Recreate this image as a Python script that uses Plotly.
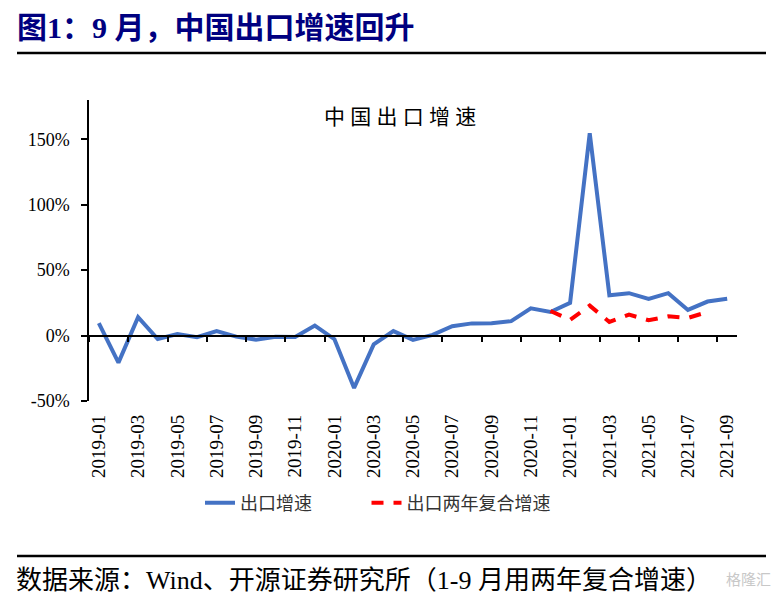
import plotly.graph_objects as go

months = ["2019-01","2019-02","2019-03","2019-04","2019-05","2019-06","2019-07","2019-08","2019-09",
          "2019-10","2019-11","2019-12","2020-01","2020-02","2020-03","2020-04","2020-05","2020-06",
          "2020-07","2020-08","2020-09","2020-10","2020-11","2020-12","2021-01","2021-02","2021-03",
          "2021-04","2021-05","2021-06","2021-07","2021-08","2021-09"]
export_growth = [9.5, -20.7, 14.0, -2.6, 1.2, -1.3, 3.5, -0.8, -3.1,
                 -1.0, -1.1, 7.6, -2.8, -40.0, -6.8, 3.4, -3.3, 0.5,
                 7.1, 9.3, 9.4, 11.0, 20.8, 18.0, 25.0, 154.6, 30.8,
                 32.4, 28.0, 32.4, 19.6, 26.0, 28.2]
compound_months = ["2020-12","2021-01","2021-02","2021-03","2021-04","2021-05","2021-06","2021-07","2021-08"]
compound_growth = [18.8, 12.0, 22.9, 10.4, 16.0, 11.7, 14.7, 13.5, 18.0]
ytick_vals = [-50, 0, 50, 100, 150]
ytick_text = ["-50%", "0%", "50%", "100%", "150%"]

SERIF = "Liberation Serif, Noto Sans CJK SC"
y_min, y_max = -50, 180

W, H = 778, 600
L, R, T, B = 89, 41, 100, 199
pw, ph = W - L - R, H - T - B

def px_to_paper_x(px):
    return (px - L) / pw

def px_to_paper_y(py):
    return (H - B - py) / ph

fig = go.Figure()
fig.add_trace(go.Scatter(x=months, y=export_growth, mode="lines", name="出口增速" + "\u00a0" * 11,
                         line=dict(color="#4472C4", width=4), xaxis="x", yaxis="y"))
fig.add_trace(go.Scatter(x=compound_months, y=compound_growth, mode="lines", name="出口两年复合增速",
                         line=dict(color="#FF0000", width=4, dash="12px,10px"), xaxis="x", yaxis="y"))
# invisible helper trace so the zero-line axis (with tick marks) is drawn
fig.add_trace(go.Scatter(x=months, y=[None]*len(months), mode="lines", showlegend=False,
                         hoverinfo="skip", xaxis="x2", yaxis="y"))

zero_pos = (0 - y_min) / (y_max - y_min)

fig.update_layout(
    width=W, height=H,
    margin=dict(l=L, r=R, t=T, b=B, autoexpand=False),
    paper_bgcolor="white", plot_bgcolor="white",
    showlegend=True,
    legend=dict(orientation="h", x=px_to_paper_x(200), xanchor="left",
                y=px_to_paper_y(503), yanchor="middle",
                font=dict(family=SERIF, size=18, color="#333333"),
                tracegroupgap=0),
    xaxis=dict(type="category", categoryorder="array", categoryarray=months,
               range=[-0.5, len(months) - 0.5], dtick=2, tickangle=-90,
               showline=False, ticks="", showgrid=False, zeroline=False, automargin=False,
               tickfont=dict(family=SERIF, size=19, color="black"),
               ticklabelstandoff=9),
    xaxis2=dict(type="category", categoryorder="array", categoryarray=months,
                range=[-0.5, len(months) - 0.5], overlaying="x", anchor="free", position=zero_pos,
                tickson="boundaries", dtick=2, ticks="outside", ticklen=6, tickcolor="black",
                tickwidth=1.5, showline=True, linecolor="black", linewidth=1.5, automargin=False,
                showticklabels=False, showgrid=False, zeroline=False),
    yaxis=dict(range=[y_min, y_max], tickvals=ytick_vals, ticktext=ytick_text,
               showline=True, linecolor="black", linewidth=1.5, ticks="outside", ticklen=6,
               tickcolor="black", tickwidth=1.5, showgrid=False, zeroline=False, automargin=False,
               tickfont=dict(family=SERIF, size=18, color="black"), ticklabelstandoff=8),
    annotations=[
        dict(text="<b>图1：9 月，中国出口增速回升</b>", xref="paper", yref="paper",
             x=px_to_paper_x(15), y=px_to_paper_y(27), xanchor="left", yanchor="middle",
             showarrow=False, font=dict(family=SERIF, size=30, color="#000080")),
        dict(text="中 国 出 口 增 速", xref="paper", yref="paper",
             x=px_to_paper_x(400), y=px_to_paper_y(117), xanchor="center", yanchor="middle",
             showarrow=False, font=dict(family=SERIF, size=21, color="black")),
        dict(text="数据来源：Wind、开源证券研究所（1-9 月用两年复合增速）", xref="paper", yref="paper",
             x=px_to_paper_x(14), y=px_to_paper_y(580), xanchor="left", yanchor="middle",
             showarrow=False, font=dict(family=SERIF, size=26, color="black")),
        dict(text="格隆汇", xref="paper", yref="paper",
             x=px_to_paper_x(748), y=px_to_paper_y(580), xanchor="center", yanchor="middle",
             showarrow=False, font=dict(family=SERIF, size=15, color="#c8c8c8")),
    ],
    shapes=[
        dict(type="line", xref="paper", yref="paper",
             x0=px_to_paper_x(17), x1=px_to_paper_x(766), y0=px_to_paper_y(53), y1=px_to_paper_y(53),
             line=dict(color="black", width=2.5)),
        dict(type="line", xref="paper", yref="paper",
             x0=px_to_paper_x(17), x1=px_to_paper_x(766), y0=px_to_paper_y(556), y1=px_to_paper_y(556),
             line=dict(color="black", width=2.5)),
    ],
)

fig.write_html("out.html", config={"displayModeBar": False},
               post_script="document.body.style.margin='0';document.body.style.overflow='hidden';")
